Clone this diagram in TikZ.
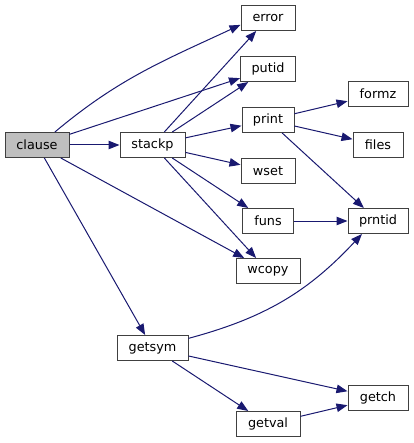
\documentclass[tikz,border=0pt]{standalone}
\usepackage{fontspec}
\setmainfont{DejaVu Sans}
\usepackage{xcolor}
\usepackage{tikz}
\usetikzlibrary{arrows.meta,positioning}
\definecolor{edgec}{HTML}{191970}
\definecolor{framec}{HTML}{404040}
\definecolor{rootbg}{HTML}{BFBFBF}
\tikzset{
  ar/.style={-{Triangle[length=11pt,width=8.5pt]},line width=1pt,edgec},
  fn/.style={draw=framec,line width=1pt,fill=white,inner sep=0pt,minimum height=25pt,font=\fontsize{12.8}{15}\selectfont},
  root/.style={fn,fill=rootbg}
}
\begin{document}
\begin{tikzpicture}[x=1pt,y=-1pt]
\useasboundingbox (0,0) rectangle (413,443);
\node[root,minimum width=64pt] (clause) at (37,145) {clause};
\node[fn,minimum width=65pt] (stackp) at (152.5,145) {stackp};
\node[fn,minimum width=54pt] (error) at (268,18) {error};
\node[fn,minimum width=55pt] (putid) at (268,69) {putid};
\node[fn,minimum width=52pt] (print) at (268,120) {print};
\node[fn,minimum width=54pt] (wset) at (268,171) {wset};
\node[fn,minimum width=51pt] (funs) at (268,221) {funs};
\node[fn,minimum width=64pt] (wcopy) at (268,271) {wcopy};
\node[fn,minimum width=60pt] (formz) at (378,94) {formz};
\node[fn,minimum width=50pt] (files) at (378,145) {files};
\node[fn,minimum width=60pt] (prntid) at (378,221) {prntid};
\node[fn,minimum width=71pt] (getsym) at (152.5,348) {getsym};
\node[fn,minimum width=60pt] (getch) at (378,398) {getch};
\node[fn,minimum width=64pt] (getval) at (268,424) {getval};
% calls from clause
\draw[ar] (clause.36) to[out=40,in=205] (error.194);
\draw[ar] (clause) -- (putid);
\draw[ar] (clause) -- (stackp);
\draw[ar] (clause) -- (wcopy);
\draw[ar] (clause) -- (getsym);
% calls from stackp
\draw[ar] (stackp) -- (error);
\draw[ar] (stackp) -- (putid);
\draw[ar] (stackp) -- (print);
\draw[ar] (stackp) -- (wset);
\draw[ar] (stackp) -- (funs);
\draw[ar] (stackp) -- (wcopy);
% print, funs
\draw[ar] (print) -- (formz);
\draw[ar] (print) -- (files);
\draw[ar] (print) -- (prntid);
\draw[ar] (funs) -- (prntid);
% getsym, getval
\draw[ar] (getsym.15) to[out=15,in=227] (prntid.219);
\draw[ar] (getsym) -- (getch);
\draw[ar] (getsym) -- (getval);
\draw[ar] (getval) -- (getch);
\end{tikzpicture}
\end{document}
